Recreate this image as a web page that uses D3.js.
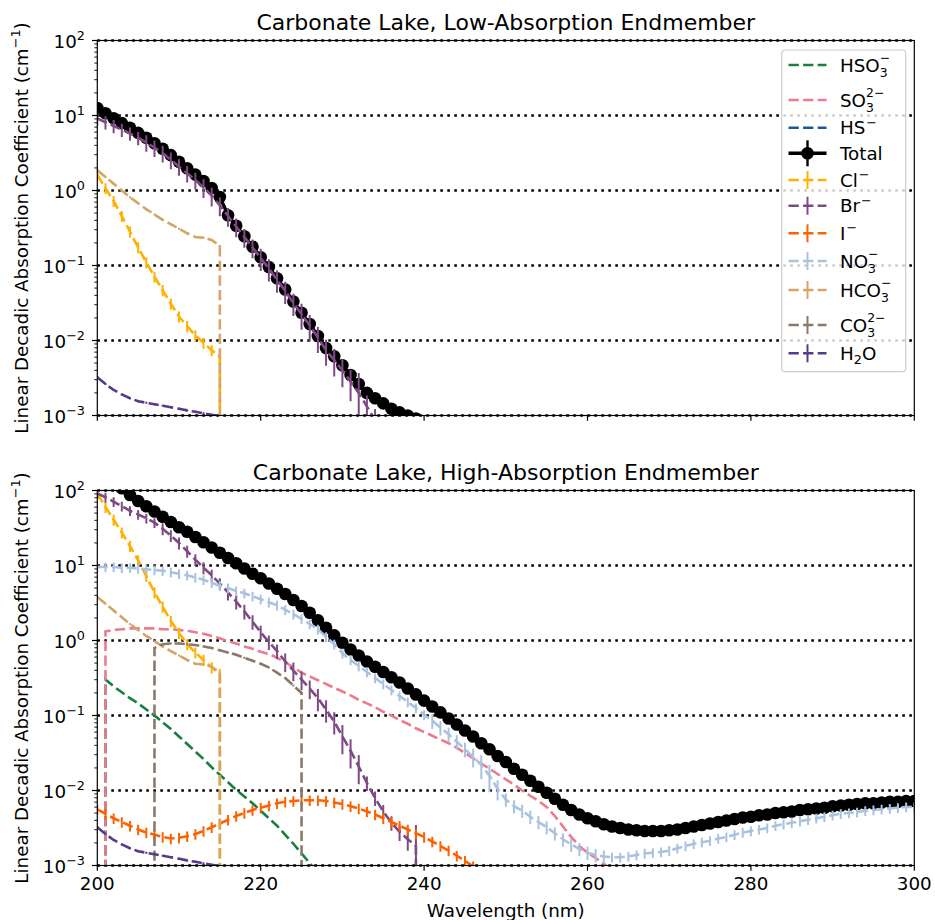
<!DOCTYPE html>
<html>
<head>
<meta charset="utf-8">
<script src="https://cdn.jsdelivr.net/npm/d3@7"></script>
<style>
  body { margin: 0; background: #fff; }
  svg { display: block; font-family: "DejaVu Sans", sans-serif; }
</style>
</head>
<body>
<svg id="fig" width="935" height="920"></svg>
<script>
// ---------------------------------------------------------------
// Absorption spectra, 1 nm grid starting at 200 nm (cm^-1).
// A 0 marks a species that is absent (drops off the log axis).
// ---------------------------------------------------------------
const wlStart = 200;
const xTicks = [200, 220, 240, 260, 280, 300];
const yDecades = [1e-3, 1e-2, 1e-1, 1e0, 1e1, 1e2];

// Low-absorption endmember
const totalLow = [12.6, 10.7, 9.19, 7.92, 6.85, 5.86, 5.04, 4.27, 3.61, 2.96, 2.42, 1.98, 1.63, 1.34, 1.08, 0.820,
  0.468, 0.339, 0.245, 0.178, 0.129, 0.0955, 0.0676, 0.0479, 0.0331, 0.0234, 0.0166, 0.0115, 0.00794, 0.00617,
  0.00468, 0.00347, 0.00263, 0.00200, 0.00170, 0.00145, 0.00123, 0.00110, 0.00100, 0.000912, 0.000832];
const brLow = [9.12, 8.13, 7.24, 6.46, 5.75, 5.01, 4.37, 3.72, 3.16, 2.57, 2.09, 1.70, 1.38, 1.10, 0.851, 0.631,
  0.457, 0.331, 0.240, 0.174, 0.126, 0.0912, 0.0646, 0.0457, 0.0316, 0.0224, 0.0158, 0.0110, 0.00741, 0.00550,
  0.00398, 0.00282, 0.00200, 0.00132, 0.000871];
const clLow = [1.62, 1.07, 0.724, 0.457, 0.282, 0.174, 0.110, 0.0708, 0.0468, 0.0309, 0.0209, 0.0155, 0.0117,
  0.00933, 0.00741, 0.00603, 0];
const hco3Low = [1.86, 1.51, 1.23, 1.00, 0.813, 0.676, 0.562, 0.479, 0.407, 0.355, 0.309, 0.269, 0.240, 0.234,
  0.219, 0.182, 0];

// High-absorption endmember
const totalHigh = [195, 166, 132, 107, 87.1, 72.4, 61.7, 52.5, 44.7, 38.0, 32.4, 28.2, 24.0, 20.4, 17.4, 14.8,
  12.6, 10.7, 9.12, 7.76, 6.76, 5.75, 4.90, 4.17, 3.47, 2.88, 2.34, 1.86, 1.48, 1.17, 0.933, 0.759, 0.631,
  0.525, 0.447, 0.380, 0.324, 0.275, 0.229, 0.191, 0.158, 0.132, 0.110, 0.0912, 0.0759, 0.0631, 0.0525,
  0.0427, 0.0355, 0.0288, 0.0240, 0.0195, 0.0162, 0.0135, 0.0112, 0.00933, 0.00776, 0.00646, 0.00550,
  0.00479, 0.00427, 0.00389, 0.00355, 0.00331, 0.00316, 0.00302, 0.00295, 0.00288, 0.00288, 0.00288,
  0.00295, 0.00302, 0.00316, 0.00331, 0.00347, 0.00363, 0.00380, 0.00398, 0.00417, 0.00437, 0.00447,
  0.00468, 0.00479, 0.00501, 0.00513, 0.00525, 0.00550, 0.00562, 0.00575, 0.00589, 0.00617, 0.00631,
  0.00646, 0.00661, 0.00676, 0.00676, 0.00692, 0.00708, 0.00708, 0.00724, 0.00724];
const no3High = [9.55, 9.55, 9.55, 9.33, 9.33, 9.12, 8.91, 8.71, 8.51, 8.13, 7.76, 7.41, 6.92, 6.46, 5.89, 5.37,
  5.01, 4.57, 4.27, 3.89, 3.55, 3.24, 2.95, 2.57, 2.24, 1.95, 1.66, 1.41, 1.12, 0.891, 0.676, 0.550, 0.457,
  0.380, 0.316, 0.263, 0.219, 0.182, 0.151, 0.126, 0.102, 0.0851, 0.0692, 0.0562, 0.0447, 0.0355, 0.0282,
  0.0219, 0.0158, 0.0105, 0.00759, 0.00617, 0.00537, 0.00447, 0.00380, 0.00324, 0.00269, 0.00224, 0.00191,
  0.00166, 0.00148, 0.00138, 0.00132, 0.00129, 0.00129, 0.00132, 0.00138, 0.00145, 0.00148, 0.00151,
  0.00158, 0.00170, 0.00182, 0.00195, 0.00204, 0.00214, 0.00229, 0.00240, 0.00257, 0.00275, 0.00288,
  0.00302, 0.00316, 0.00339, 0.00355, 0.00372, 0.00389, 0.00407, 0.00427, 0.00447, 0.00468, 0.00490,
  0.00501, 0.00513, 0.00537, 0.00550, 0.00562, 0.00575, 0.00589, 0.00603, 0.00603];
const brHigh = [91.2, 81.3, 70.8, 61.7, 53.7, 47.9, 42.7, 37.2, 30.9, 25.1, 20.0, 15.5, 12.0, 9.33, 7.41, 5.75,
  4.37, 3.31, 2.45, 1.78, 1.29, 0.955, 0.724, 0.525, 0.398, 0.302, 0.229, 0.170, 0.120, 0.0832, 0.0525,
  0.0339, 0.0209, 0.0126, 0.00794, 0.00525, 0.00372, 0.00282, 0.00224, 0.00182, 0];
const clHigh = [91.2, 60.3, 40.7, 27.5, 18.2, 11.7, 7.24, 4.37, 2.82, 1.82, 1.26, 0.891, 0.692, 0.550, 0.437,
  0.355, 0];
const hco3High = [3.80, 3.09, 2.51, 2.04, 1.66, 1.38, 1.15, 0.977, 0.832, 0.724, 0.631, 0.550, 0.490, 0.479,
  0.447, 0.372, 0];
const co3High = [0, 0, 0, 0, 0, 0, 0, 0.794, 0.891, 0.912, 0.912, 0.891, 0.871, 0.832, 0.794, 0.741, 0.692,
  0.646, 0.589, 0.537, 0.490, 0.437, 0.372, 0.316, 0.251, 0.200, 0];
const so3High = [0, 1.32, 1.38, 1.41, 1.45, 1.45, 1.45, 1.45, 1.41, 1.41, 1.38, 1.35, 1.29, 1.23, 1.15, 1.07,
  0.977, 0.912, 0.832, 0.776, 0.708, 0.661, 0.589, 0.513, 0.437, 0.372, 0.331, 0.295, 0.263, 0.234, 0.209,
  0.186, 0.162, 0.145, 0.129, 0.112, 0.100, 0.0871, 0.0776, 0.0676, 0.0603, 0.0537, 0.0479, 0.0427, 0.0372,
  0.0316, 0.0269, 0.0229, 0.0195, 0.0166, 0.0141, 0.0120, 0.0100, 0.00851, 0.00724, 0.00603, 0.00457,
  0.00331, 0.00240, 0.00182, 0.00148, 0.00126, 0.00105, 0.000871, 0.000724];
const hso3High = [0, 0.302, 0.245, 0.204, 0.170, 0.145, 0.120, 0.100, 0.0813, 0.0661, 0.0525, 0.0417, 0.0331,
  0.0263, 0.0204, 0.0162, 0.0129, 0.0102, 0.00832, 0.00676, 0.00537, 0.00427, 0.00339, 0.00257, 0.00195,
  0.00145, 0.00107, 0.000794, 0.000589];
const iHigh = [0.00562, 0.00490, 0.00427, 0.00380, 0.00339, 0.00302, 0.00275, 0.00257, 0.00240, 0.00229,
  0.00234, 0.00245, 0.00263, 0.00288, 0.00324, 0.00363, 0.00407, 0.00457, 0.00501, 0.00550, 0.00589,
  0.00631, 0.00676, 0.00708, 0.00724, 0.00741, 0.00741, 0.00741, 0.00724, 0.00692, 0.00661, 0.00617,
  0.00575, 0.00525, 0.00479, 0.00427, 0.00380, 0.00339, 0.00302, 0.00269, 0.00240, 0.00209, 0.00182,
  0.00158, 0.00135, 0.00115, 0.000977, 0.000832];

// Water is the same in both endmembers
const h2oAbs = [0.00324, 0.00263, 0.00219, 0.00191, 0.00170, 0.00155, 0.00148, 0.00141, 0.00135, 0.00129,
  0.00123, 0.00117, 0.00112, 0.00107, 0.00102, 0.000977, 0.000933];

// Relative (fractional) 1-sigma uncertainties
const brLowErr = [0.20, 0.20, 0.20, 0.20, 0.20, 0.20, 0.25, 0.25, 0.25, 0.25, 0.25, 0.25, 0.25, 0.28, 0.28,
  0.28, 0.28, 0.28, 0.28, 0.28, 0.33, 0.33, 0.33, 0.33, 0.33, 0.38, 0.38, 0.38, 0.38, 0.40, 0.40, 0.45, 0.85,
  0.40, 0.40];
const brHighErr = [0.15, 0.15, 0.15, 0.15, 0.15, 0.15, 0.15, 0.15, 0.18, 0.18, 0.18, 0.18, 0.18, 0.18, 0.18,
  0.18, 0.22, 0.22, 0.22, 0.22, 0.22, 0.22, 0.22, 0.28, 0.28, 0.28, 0.28, 0.33, 0.33, 0.33, 0.42, 0.42, 0.42,
  0.22, 0.22, 0.22, 0.22, 0.25, 0.30, 0.90];
const no3HighErr = [
  0.15, 0.15, 0.15, 0.15, 0.15, 0.15, 0.15, 0.15, 0.15, 0.15, 0.15, 0.15, 0.15, 0.15, 0.15, 0.15, 0.15,
  0.15, 0.15, 0.15, 0.15, 0.15, 0.15, 0.15, 0.15, 0.15, 0.15, 0.15, 0.15, 0.15, 0.15, 0.15, 0.15, 0.15,
  0.15, 0.15, 0.15, 0.15, 0.15, 0.15, 0.15,
  0.22, 0.22, 0.22, 0.22, 0.22, 0.28, 0.35, 0.40, 0.30,
  0.20, 0.20, 0.20, 0.20, 0.20, 0.20, 0.20, 0.20, 0.20, 0.20, 0.20, 0.20, 0.20,
  0.15, 0.15, 0.15, 0.15, 0.15, 0.15, 0.15, 0.15, 0.15, 0.15, 0.15, 0.15, 0.15, 0.15, 0.15, 0.15, 0.15,
  0.15, 0.15, 0.15, 0.15, 0.15, 0.15, 0.15, 0.15, 0.15, 0.15, 0.15, 0.15, 0.15, 0.15, 0.15, 0.15, 0.15,
  0.15, 0.15, 0.15, 0.15];
const clErr = 0.17;
const iErr = 0.16;
const hco3Err = 0.03;
const co3Err = 0.03;
const h2oErr = 0.03;

// Species, in drawing and legend order
const species = [
  { key: "hso3",  base: "HSO", sub: "3", sup: "\u2212",  color: "#178040", bars: false },
  { key: "so3",   base: "SO",  sub: "3", sup: "2\u2212", color: "#ee7a8f", bars: false },
  { key: "hs",    base: "HS",  sup: "\u2212",            color: "#1a5a96", bars: false },
  { key: "total", base: "Total",                         color: "#000000", bars: true, total: true },
  { key: "cl",    base: "Cl",  sup: "\u2212",            color: "#ffb000", bars: true },
  { key: "br",    base: "Br",  sup: "\u2212",            color: "#7d4a83", bars: true },
  { key: "i",     base: "I",   sup: "\u2212",            color: "#fe6100", bars: true },
  { key: "no3",   base: "NO",  sub: "3", sup: "\u2212",  color: "#a8c2e0", bars: true },
  { key: "hco3",  base: "HCO", sub: "3", sup: "\u2212",  color: "#d4a565", bars: true },
  { key: "co3",   base: "CO",  sub: "3", sup: "2\u2212", color: "#8a7968", bars: true },
  { key: "h2o",   base: "H",   sub: "2", after: "O",     color: "#573a8c", bars: true }
];

const panels = [
  {
    title: "Carbonate Lake, Low-Absorption Endmember",
    top: 40.5, showXLabels: false, legend: true,
    data: { total: totalLow, cl: clLow, br: brLow, hco3: hco3Low, h2o: h2oAbs },
    err:  { cl: clErr, br: brLowErr, hco3: hco3Err, h2o: h2oErr }
  },
  {
    title: "Carbonate Lake, High-Absorption Endmember",
    top: 490.5, showXLabels: true, legend: false,
    data: { hso3: hso3High, so3: so3High, total: totalHigh, cl: clHigh, br: brHigh, i: iHigh,
            no3: no3High, hco3: hco3High, co3: co3High, h2o: h2oAbs },
    err:  { cl: clErr, br: brHighErr, i: iErr, no3: no3HighErr, hco3: hco3Err, co3: co3Err, h2o: h2oErr }
  }
];

// ---------------------------------------------------------------
const svg = d3.select("#fig");
const plotLeft = 97.3, plotRight = 914.3, plotH = 375;
const fontBase = 18.3, fontSmall = 12.8, fontScript = 12.4;
const dash = "10.3,4.3";

const x = d3.scaleLinear().domain([200, 300]).range([plotLeft, plotRight]);

function supLabel(sel, exp) {
  sel.append("tspan").text("10");
  sel.append("tspan").attr("font-size", fontSmall).attr("dy", -7.5).text(exp);
}

panels.forEach((p, pi) => {
  const bottom = p.top + plotH;
  const y = d3.scaleLog().domain([1e-3, 1e2]).range([bottom, p.top]);
  const yPix = v => (v > 0 ? y(v) : bottom + 1e5);
  const g = svg.append("g");

  const clipId = "clip" + pi;
  svg.append("clipPath").attr("id", clipId)
    .append("rect").attr("x", plotLeft).attr("y", p.top)
    .attr("width", plotRight - plotLeft).attr("height", plotH);

  // dotted horizontal grid at each decade
  g.append("g").selectAll("line").data(yDecades).join("line")
    .attr("x1", plotLeft).attr("x2", plotRight)
    .attr("y1", d => y(d)).attr("y2", d => y(d))
    .attr("stroke", "#000").attr("stroke-width", 2.6)
    .attr("stroke-dasharray", "2.6,4.4");

  const plot = g.append("g").attr("clip-path", `url(#${clipId})`);
  const line = d3.line().x(d => x(d.wl)).y(d => yPix(d.v));

  species.forEach(s => {
    const vals = p.data[s.key];
    if (!vals) return;
    const pts = vals.map((v, i) => ({ wl: wlStart + i, v }));
    const sg = plot.append("g");

    if (s.total) {
      sg.append("path").datum(pts).attr("d", line)
        .attr("fill", "none").attr("stroke", s.color).attr("stroke-width", 3.4)
        .attr("stroke-linejoin", "round");
      sg.selectAll("circle").data(pts.filter(d => d.v > 0)).join("circle")
        .attr("cx", d => x(d.wl)).attr("cy", d => y(d.v)).attr("r", 6.3)
        .attr("fill", s.color);
      return;
    }

    sg.append("path").datum(pts).attr("d", line)
      .attr("fill", "none").attr("stroke", s.color).attr("stroke-width", 2.6)
      .attr("stroke-dasharray", dash);

    const e = p.err[s.key];
    if (s.bars && e !== undefined) {
      const rel = i => (Array.isArray(e) ? e[i] : e);
      const bars = pts.map((d, i) => ({ wl: d.wl, v: d.v, r: rel(i) })).filter(d => d.v > 0);
      sg.selectAll("line.err").data(bars).join("line").attr("class", "err")
        .attr("x1", d => x(d.wl)).attr("x2", d => x(d.wl))
        .attr("y1", d => yPix(d.v * (1 + d.r)))
        .attr("y2", d => yPix(d.v * (1 - d.r)))
        .attr("stroke", s.color).attr("stroke-width", 2);
    }
  });

  // y ticks (log): majors at decades, minors at 2..9
  const yTicks = y.ticks();
  const isMajor = v => Math.abs(Math.log10(v) - Math.round(Math.log10(v))) < 1e-9;
  const axis = g.append("g");
  axis.selectAll("line.yt").data(yTicks).join("line").attr("class", "yt")
    .attr("x1", d => plotLeft - (isMajor(d) ? 5.3 : 3)).attr("x2", plotLeft)
    .attr("y1", d => y(d)).attr("y2", d => y(d))
    .attr("stroke", "#000").attr("stroke-width", d => (isMajor(d) ? 1.2 : 0.9));

  axis.selectAll("text.yl").data(yDecades).join("text").attr("class", "yl")
    .attr("x", 85).attr("y", d => y(d) + 7)
    .attr("text-anchor", "end").attr("font-size", fontBase).attr("fill", "#000")
    .each(function (d) {
      const exp = Math.round(Math.log10(d));
      supLabel(d3.select(this), exp < 0 ? "\u2212" + (-exp) : String(exp));
    });

  // x ticks
  axis.selectAll("line.xt").data(xTicks).join("line").attr("class", "xt")
    .attr("x1", d => x(d)).attr("x2", d => x(d))
    .attr("y1", bottom).attr("y2", bottom + 5.3)
    .attr("stroke", "#000").attr("stroke-width", 1.2);
  if (p.showXLabels) {
    axis.selectAll("text.xl").data(xTicks).join("text").attr("class", "xl")
      .attr("x", d => x(d)).attr("y", bottom + 24.5)
      .attr("text-anchor", "middle").attr("font-size", fontBase).text(d => d);
    axis.append("text").attr("x", (plotLeft + plotRight) / 2).attr("y", 916.5)
      .attr("text-anchor", "middle").attr("font-size", fontBase).text("Wavelength (nm)");
  }

  // frame
  g.append("rect").attr("x", plotLeft).attr("y", p.top)
    .attr("width", plotRight - plotLeft).attr("height", plotH)
    .attr("fill", "none").attr("stroke", "#000").attr("stroke-width", 1.2);

  // title
  g.append("text").attr("x", (plotLeft + plotRight) / 2).attr("y", p.top - 11)
    .attr("text-anchor", "middle").attr("font-size", 22).text(p.title);

  // y axis label
  const yl = g.append("text")
    .attr("transform", `translate(27.5,${p.top + plotH / 2}) rotate(-90)`)
    .attr("text-anchor", "middle").attr("font-size", fontBase);
  yl.append("tspan").text("Linear Decadic Absorption Coefficient (cm");
  yl.append("tspan").attr("font-size", fontSmall).attr("dy", -7.5).text("\u22121");
  yl.append("tspan").attr("dy", 7.5).text(")");

  if (p.legend) drawLegend();
});

function drawLegend() {
  const lg = svg.append("g");
  lg.append("rect").attr("x", 781.7).attr("y", 50).attr("width", 124).attr("height", 321.7)
    .attr("rx", 3.5).attr("fill", "#fff").attr("fill-opacity", 0.8)
    .attr("stroke", "#cccccc").attr("stroke-width", 1.2);

  const rowY = [65, 100, 127.7, 153.3, 180, 205.7, 233.3, 261, 290, 325, 353.3];
  const hx0 = 788.5, hx1 = 826.5, hxm = (hx0 + hx1) / 2, tx = 840;

  species.forEach((s, i) => {
    const cy = rowY[i];
    if (s.total) {
      lg.append("line").attr("x1", hx0).attr("x2", hx1).attr("y1", cy).attr("y2", cy)
        .attr("stroke", "#000").attr("stroke-width", 3.4);
      lg.append("line").attr("x1", hxm).attr("x2", hxm).attr("y1", cy - 13).attr("y2", cy + 13)
        .attr("stroke", "#000").attr("stroke-width", 2.4);
      lg.append("circle").attr("cx", hxm).attr("cy", cy).attr("r", 6.3).attr("fill", "#000");
    } else {
      lg.append("line").attr("x1", hx0).attr("x2", hx1).attr("y1", cy).attr("y2", cy)
        .attr("stroke", s.color).attr("stroke-width", 2.6).attr("stroke-dasharray", dash);
      if (s.bars) {
        lg.append("line").attr("x1", hxm).attr("x2", hxm).attr("y1", cy - 9).attr("y2", cy + 9)
          .attr("stroke", s.color).attr("stroke-width", 2);
      }
    }

    // chemical label: base text with a subscript and a superscript stacked after it
    const base = cy + 6.6;
    const t = lg.append("text").attr("x", tx).attr("y", base).attr("font-size", fontBase);
    const main = t.append("tspan").text(s.base);
    const ex = tx + main.node().getComputedTextLength();
    if (s.after) {
      t.append("tspan").attr("font-size", fontSmall).attr("dy", 4.5).text(s.sub);
      t.append("tspan").attr("dy", -4.5).text(s.after);
      return;
    }
    if (s.sub) {
      t.append("tspan").attr("font-size", fontScript).attr("dy", 5.5).text(s.sub);
      if (s.sup) {
        t.append("tspan").attr("x", ex).attr("font-size", fontScript).attr("dy", -15).text(s.sup);
      }
    } else if (s.sup) {
      t.append("tspan").attr("x", ex + 1).attr("font-size", fontSmall).attr("dy", -7.5).text(s.sup);
    }
  });
}
</script>
</body>
</html>
